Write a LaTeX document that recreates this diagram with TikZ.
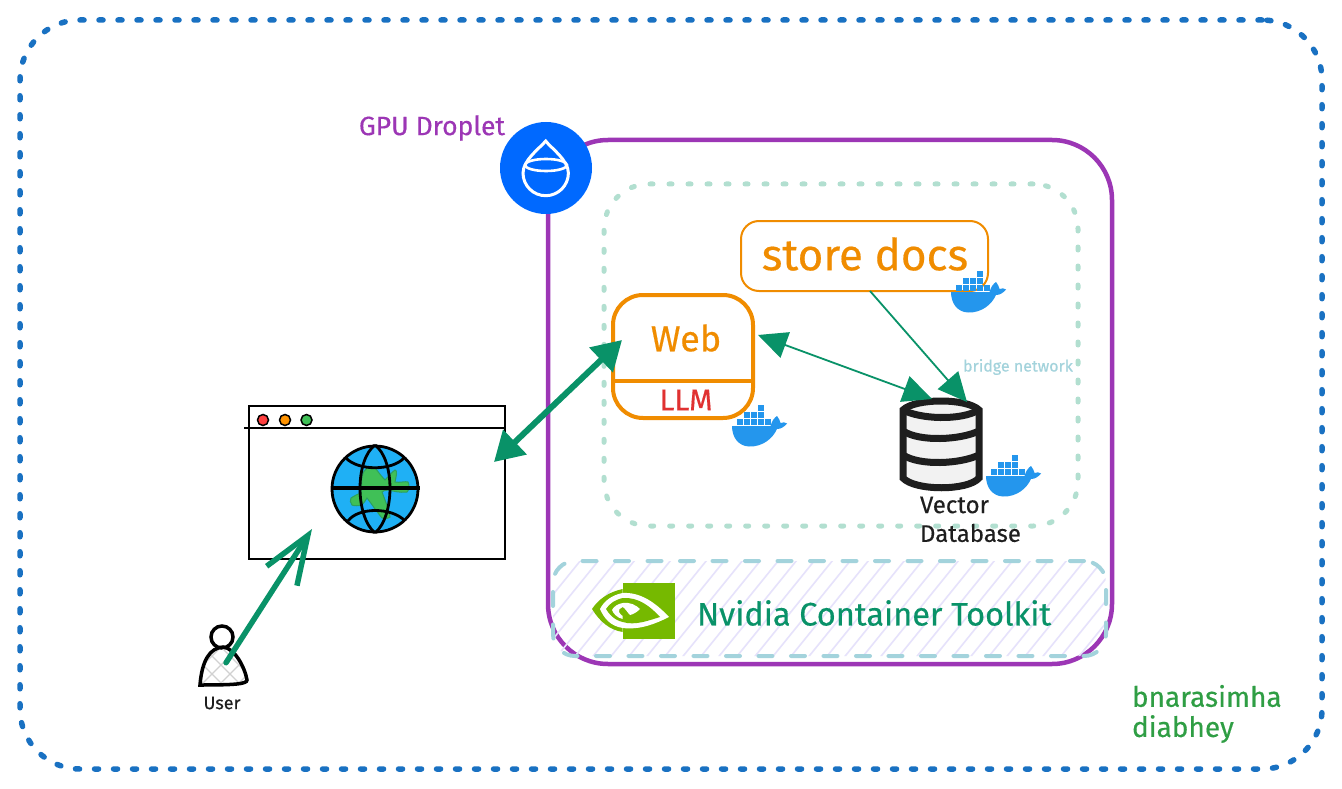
\documentclass[tikz,border=0pt]{standalone}
\usepackage{fontspec}
\setmainfont[FakeBold=0.4]{Fira Sans}
\usepackage{xcolor}
\usepackage{tikz}
\usetikzlibrary{arrows.meta,positioning,calc}

\definecolor{outerblue}{HTML}{1971C2}
\definecolor{dropletpurple}{HTML}{9C36B5}
\definecolor{doblue}{HTML}{0069FF}
\definecolor{bridgemint}{HTML}{B2DFD0}
\definecolor{boxorange}{HTML}{F08C00}
\definecolor{llmred}{HTML}{E03131}
\definecolor{linkgreen}{HTML}{099268}
\definecolor{namegreen}{HTML}{2F9E44}
\definecolor{toolkitblue}{HTML}{A3D3DC}
\definecolor{hachure}{HTML}{E6E2FB}
\definecolor{whaleblue}{HTML}{2496ED}
\definecolor{nvgreen}{HTML}{76B900}
\definecolor{globeblue}{HTML}{1FB0F5}
\definecolor{landgreen}{HTML}{40C057}
\definecolor{inkblack}{HTML}{1E1E1E}

\newcommand{\pxfont}[1]{\fontsize{#1}{#1}\selectfont}

\begin{document}
\begin{tikzpicture}[
    x=1pt, y=-1pt,
    framebox/.style={rectangle, draw, inner sep=0pt, outer sep=0pt},
    label/.style={inner sep=0pt, outer sep=0pt, align=left},
    linkthin/.style={linkgreen, line width=1.8pt, {Triangle[length=29pt,width=27pt]}-{Triangle[length=29pt,width=27pt]}},
    linkone/.style={linkgreen, line width=1.8pt, -{Triangle[length=29pt,width=27pt]}},
    linkthick/.style={linkgreen, line width=6pt, {Triangle[length=29pt,width=33pt]}-{Triangle[length=29pt,width=33pt]}},
    linkopen/.style={linkgreen, line width=5.5pt, line cap=round, -{Straight Barb[length=48pt,width=36pt]}},
    docker/.pic={
        \fill[whaleblue] (0,21) -- (38.5,21) .. controls (40,16) and (42,13) .. (45,11)
            .. controls (47,13) and (48,16) .. (48.5,18) .. controls (51,17) and (53,17) .. (55,18.5)
            .. controls (52,22) and (49,24) .. (45,24) .. controls (41,33) and (31,42) .. (17,41.5)
            .. controls (6,41) and (0,32) .. (0,21) -- cycle;
        \foreach \cx in {5,12,19,26,33}
            \fill[whaleblue] (\cx,14) rectangle ++(5.8,5.8);
        \foreach \cx in {12,19,26}
            \fill[whaleblue] (\cx,7) rectangle ++(5.8,5.8);
        \fill[whaleblue] (26,0) rectangle ++(5.8,5.8);
    }
]
\useasboundingbox (0,0) rectangle (1342,789);
\fill[white] (0,0) rectangle (1342,789);

% Outer frame
\node[framebox, outerblue, line width=5.5pt, line cap=round, dash pattern=on 4pt off 15pt, rounded corners=60pt,
      minimum width=1302pt, minimum height=749pt] (outer) at (671,394.5) {};
\node[label, font=\pxfont{28}, text=namegreen, anchor=west] (names) at (1132,696) {bnarasimha};
\node[label, font=\pxfont{28}, text=namegreen, anchor=west] (names2) at (1132,729) {diabhey};

% GPU Droplet
\node[framebox, dropletpurple, line width=4.5pt, rounded corners=60pt,
      minimum width=564pt, minimum height=524pt] (droplet) at (830,402) {};
\node[circle, fill=doblue, inner sep=0pt, minimum size=92pt] (dologo) at (546,168) {};
\draw[white, line width=3pt] (545.7,141) .. controls (540,148) and (523,160) .. (523,173)
    arc[start angle=180, end angle=0, radius=22.7] .. controls (568.4,160) and (551,148) .. (545.7,141) -- cycle;
\draw[white, line width=2.6pt] (546,165) ellipse[x radius=21, y radius=6];
\node[label, font=\pxfont{26.5}, text=dropletpurple] (gpulabel) at (432,128) {GPU Droplet};

% Bridge network
\node[framebox, bridgemint, line width=5pt, line cap=round, dash pattern=on 3pt off 16pt, rounded corners=45pt,
      minimum width=474pt, minimum height=342pt] (bridge) at (841,355) {};
\node[label, font=\pxfont{16}, text=toolkitblue] (bridgelabel) at (1018,367) {bridge network};

% Containers
\node[framebox, boxorange, line width=2pt, rounded corners=18pt, minimum width=247pt, minimum height=70pt] (store) at (864.5,256) {};
\node[label, font=\pxfont{44}, text=boxorange] (storetext) at (865,254) {store docs};
\node[framebox, boxorange, line width=4pt, rounded corners=30pt, minimum width=140pt, minimum height=123pt] (web) at (683,356.5) {};
\node[label, font=\pxfont{36}, text=boxorange] (webtext) at (686,338) {Web};
\node[label, font=\pxfont{30}, text=llmred] (llm) at (686,400) {LLM};
\draw[boxorange, line width=4pt] (web.west |- 0,381) -- (web.east |- 0,381);

% Vector database
\node[framebox, draw=none, minimum width=82pt, minimum height=93pt] (db) at (941,443.5) {};
\begin{scope}[inkblack, line width=7pt, fill=black!5]
    \filldraw (903,410) .. controls (915,398) and (967,398) .. (979,410) -- (979,478)
        .. controls (968,491) and (915,491) .. (903,478) -- cycle;
    \draw (903,410) .. controls (920,419) and (960,421) .. (979,410);
    \draw (903,431) .. controls (920,442) and (960,440) .. (979,431);
    \draw (903,455) .. controls (920,466) and (960,464) .. (979,455);
\end{scope}
\node[label, font=\pxfont{24}, anchor=west, text=inkblack] (dbtext) at (920,505) {Vector};
\node[label, font=\pxfont{24}, anchor=west, text=inkblack] (dbtext2) at (920,533) {Database};

\pic at (732,405) {docker};
\pic at (951,271) {docker};
\pic at (986,455) {docker};

% Nvidia toolkit band
\begin{scope}
    \clip[rounded corners=22pt] (553,561) rectangle (1106,656);
    \foreach \hx in {500,518,...,1100}
        \draw[hachure, line width=1.6pt] (\hx,660) -- (\hx+85,555);
\end{scope}
\node[framebox, toolkitblue, line width=4pt, line cap=round, dash pattern=on 14pt off 18.5pt, rounded corners=22pt,
      minimum width=553pt, minimum height=95pt] (toolkit) at (829.5,608.5) {};
\node[label, font=\pxfont{32.5}, text=linkgreen, anchor=west] (toolkitlabel) at (697,613) {Nvidia Container Toolkit};

% Nvidia logo
\fill[nvgreen] (622.7,583.3) rectangle (675,639);
\fill[nvgreen] (622.7,589) .. controls (608,592) and (598,600) .. (592,609) .. controls (600,622) and (610,630) .. (622.7,632) -- cycle;
\fill[white] (622.7,593) .. controls (640,592) and (655,602) .. (669,617) .. controls (655,624) and (640,630) .. (622.7,628)
    .. controls (610,626) and (604,618) .. (600,609) .. controls (604,601) and (612,595) .. (622.7,593) -- cycle;
\fill[nvgreen] (622.7,598) .. controls (638,597) and (650,606) .. (660,617) .. controls (650,620) and (635,626) .. (622.7,622)
    .. controls (614,620) and (609,614) .. (606,609) .. controls (610,603) and (615,600) .. (622.7,598) -- cycle;
\fill[white] (622.7,603) .. controls (630,602) and (636,605) .. (640,609) .. controls (637,612) and (634,614) .. (630,615)
    .. controls (627,612) and (625,608) .. (622.7,607) .. controls (620,608) and (618,610) .. (619,612)
    .. controls (620,614) and (621,615) .. (622.7,616) -- (622.7,619) .. controls (617,618) and (613,613) .. (612,610)
    .. controls (614,606) and (618,604) .. (622.7,603) -- cycle;

% Browser window
\node[framebox, line width=2.2pt, minimum width=256pt, minimum height=153pt] (browser) at (377,482.5) {};
\draw[line width=2.2pt] (244,428) -- (browser.east |- 0,428);
\node[circle, draw, line width=1.5pt, fill=red!75!white, inner sep=0pt, minimum size=11pt] (btnred) at (263,420) {};
\node[circle, draw, line width=1.5pt, fill=orange!85!yellow, inner sep=0pt, minimum size=11pt, right=9.5pt of btnred] (btnyellow) {};
\node[circle, draw, line width=1.5pt, fill=landgreen, inner sep=0pt, minimum size=11pt, right=9pt of btnyellow] (btngreen) {};

% Globe
\node[circle, fill=globeblue, inner sep=0pt, minimum size=86pt] (globe) at (375,489) {};
\fill[landgreen, draw=namegreen!85!globeblue, line width=1pt] (367,468) .. controls (371,466) and (374,467) .. (376,469)
    .. controls (379,473) and (382,477) .. (385,480) .. controls (389,476) and (392,472) .. (395,470)
    .. controls (398,470) and (396,477) .. (395,482) .. controls (400,483) and (405,481) .. (408,482)
    .. controls (410,486) and (409,490) .. (407,492) .. controls (400,493) and (393,491) .. (388,490)
    .. controls (385,490) and (383,491) .. (382,492) .. controls (385,500) and (389,510) .. (390,517)
    .. controls (387,519) and (384,519) .. (382,518) .. controls (377,512) and (371,503) .. (367,498)
    .. controls (365,501) and (364,503) .. (362,505) .. controls (358,506) and (354,506) .. (352,505)
    .. controls (350,503) and (350,500) .. (351,498) .. controls (354,496) and (358,494) .. (361,493)
    .. controls (362,487) and (361,482) .. (362,477) .. controls (363,473) and (364,470) .. (367,468) -- cycle;
\begin{scope}[line width=2.8pt]
    \draw (globe) circle[radius=43];
    \draw[line width=3.2pt] (331,488) -- (420,488);
    \draw (375,445) .. controls (355,460) and (355,516) .. (375,533);
    \draw (375,445) .. controls (395,460) and (395,516) .. (375,533);
    \draw (346,458) .. controls (358,471) and (392,471) .. (404,458);
    \draw (348,521) .. controls (358,507) and (392,507) .. (405,521);
\end{scope}

% User
\node[circle, draw, line width=3.5pt, inner sep=0pt, minimum size=22pt] (userhead) at (222,637) {};
\begin{scope}
    \clip (200,685) .. controls (202,660) and (210,648) .. (223,647) .. controls (235,648) and (245,668) .. (247,680) .. controls (247,684) and (235,685) .. (200,685) -- cycle;
    \foreach \ux in {160,178,196,214,232}
        \draw[black!18, line width=1.2pt] (\ux,640) -- (\ux+50,690) (\ux+50,640) -- (\ux,690);
\end{scope}
\draw[line width=3.5pt] (200,685) .. controls (202,660) and (210,648) .. (223,647) .. controls (235,648) and (245,668) .. (247,680) .. controls (247,684) and (235,685) .. (200,685) -- cycle;
\node[label, font=\pxfont{18}, below=47pt of userhead.south, text=inkblack] (userlabel) {User};

% Arrows
\draw[linkthick] ($(browser.east)+(-11,-20.5)$) -- ($(web.west)+(9,-16.5)$);
\draw[linkthin] ($(web.east)+(5,-21.5)$) -- ($(db.north)+(-9,2)$);
\draw[linkone] ($(store.south)+(5.5,0)$) -- ($(db.north)+(26,5)$);
\draw[linkopen] ($(userhead.south)+(4,13)$) -- ($(browser.south west)+(63,-30)$);

\end{tikzpicture}
\end{document}
